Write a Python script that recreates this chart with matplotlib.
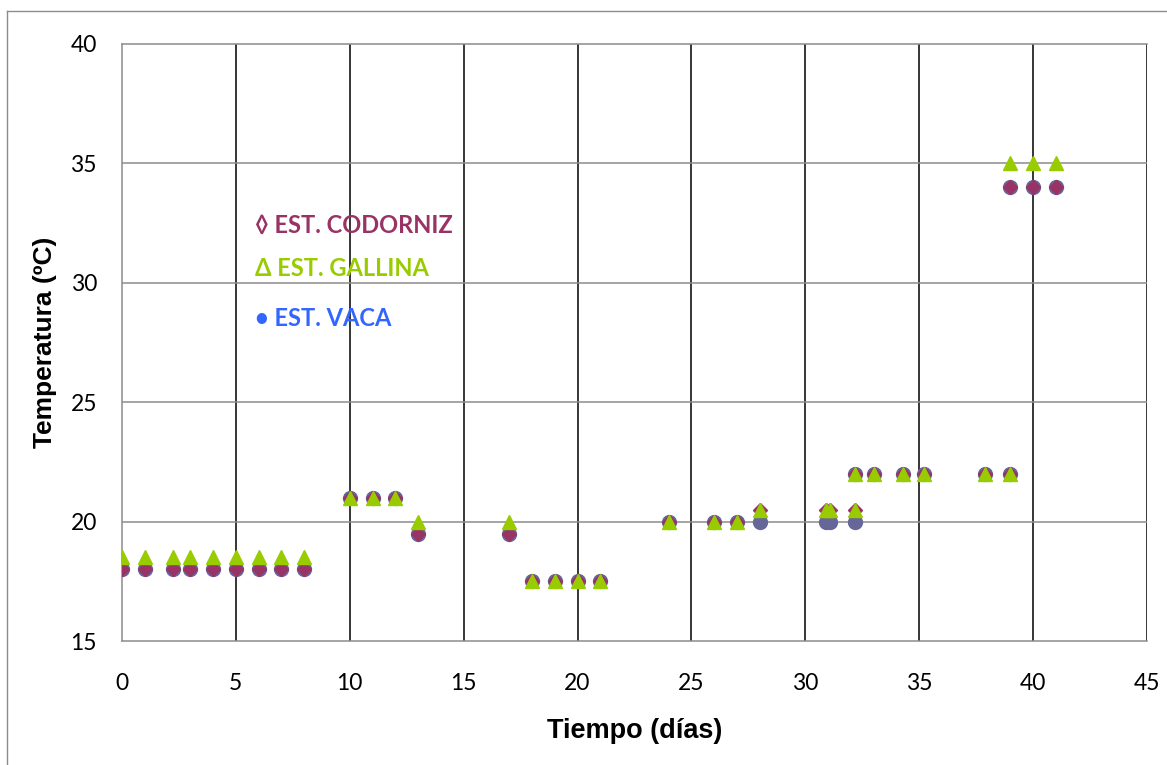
import matplotlib
matplotlib.use("Agg")
import matplotlib.pyplot as plt
from matplotlib.lines import Line2D

# Sampling days and temperatures (ºC) for the three manure piles
dias = [0, 1, 2.25, 3, 4, 5, 6, 7, 8,
        10, 11, 12, 13, 17,
        18, 19, 20, 21, 24, 26, 27, 28,
        30.9, 31.1, 32.2, 32.2, 33, 34.3, 35.2, 37.9, 39,
        39, 40, 41]
vaca = [18, 18, 18, 18, 18, 18, 18, 18, 18,
        21, 21, 21, 19.5, 19.5,
        17.5, 17.5, 17.5, 17.5, 20, 20, 20, 20,
        20, 20, 20, 22, 22, 22, 22, 22, 22,
        34, 34, 34]
codorniz = [18, 18, 18, 18, 18, 18, 18, 18, 18,
            21, 21, 21, 19.5, 19.5,
            17.5, 17.5, 17.5, 17.5, 20, 20, 20, 20.5,
            20.5, 20.5, 20.5, 22, 22, 22, 22, 22, 22,
            34, 34, 34]
gallina = [18.5, 18.5, 18.5, 18.5, 18.5, 18.5, 18.5, 18.5, 18.5,
           21, 21, 21, 20, 20,
           17.5, 17.5, 17.5, 17.5, 20, 20, 20, 20.5,
           20.5, 20.5, 20.5, 22, 22, 22, 22, 22, 22,
           35, 35, 35]

x_ticks = [0, 5, 10, 15, 20, 25, 30, 35, 40, 45]
y_ticks = [15, 20, 25, 30, 35, 40]

C_VACA = "#666699"
C_VACA_TXT = "#3366FF"
C_COD = "#993366"
C_GAL = "#99CC00"

fig = plt.figure(figsize=(11.67, 7.65), dpi=100)
fig.patch.set_facecolor("white")

# chart-area frame (left and top edges)
fig.add_artist(Line2D([7 / 1167, 7 / 1167], [0, 1 - 11 / 765], transform=fig.transFigure,
                      color="#8c8c8c", lw=1.0))
fig.add_artist(Line2D([7 / 1167, 1], [1 - 11 / 765, 1 - 11 / 765], transform=fig.transFigure,
                      color="#8c8c8c", lw=1.0))

ax = fig.add_axes([122 / 1167, 1 - 641 / 765, (1147 - 122) / 1167, (641 - 44) / 765])
ax.set_xlim(0, 45)
ax.set_ylim(15, 40)
ax.set_xticks(x_ticks)
ax.set_yticks(y_ticks)

# grid: black verticals, grey horizontals
for xv in x_ticks[1:]:
    ax.axvline(xv, color="black", lw=1.1, zorder=1)
for yv in y_ticks[1:-1]:
    ax.axhline(yv, color="#8c8c8c", lw=1.1, zorder=1)

for side in ["left", "bottom", "top"]:
    ax.spines[side].set_color("#8c8c8c")
    ax.spines[side].set_linewidth(1.1)
ax.spines["right"].set_visible(False)

ax.tick_params(length=0, labelsize=16.5)
ax.tick_params(axis="x", pad=23)
ax.tick_params(axis="y", pad=18)
for lab in ax.get_xticklabels() + ax.get_yticklabels():
    lab.set_family(["Lato", "DejaVu Sans"])

ax.plot(dias, vaca, linestyle="none", marker="o", ms=10, color=C_VACA, mec=C_VACA, zorder=3)
ax.plot(dias, codorniz, linestyle="none", marker="D", ms=7.2, color=C_COD, mec=C_COD, zorder=4)
ax.plot(dias, gallina, linestyle="none", marker="^", ms=10.5, color=C_GAL, mec=C_GAL, zorder=5)

ax.set_xlabel("Tiempo (días)", family=["Liberation Sans", "DejaVu Sans"], fontsize=19.5,
              fontweight="bold", labelpad=17)
ax.set_ylabel("Temperatura (ºC)", family=["Liberation Sans", "DejaVu Sans"], fontsize=19,
              fontweight="bold", labelpad=10)

# series key as coloured text
fam = ["Lato", "DejaVu Sans"]
ax.text(5.85, 32.4, "◊ EST. CODORNIZ", color=C_COD, fontsize=17, fontweight="bold",
        family=fam, va="center", ha="left", zorder=6)
ax.text(5.85, 30.6, "Δ EST. GALLINA", color=C_GAL, fontsize=17, fontweight="bold",
        family=fam, va="center", ha="left", zorder=6)
ax.text(5.85, 28.5, "• EST. VACA", color=C_VACA_TXT, fontsize=17, fontweight="bold",
        family=fam, va="center", ha="left", zorder=6)

fig.savefig("out.png", dpi=100, facecolor="white")
